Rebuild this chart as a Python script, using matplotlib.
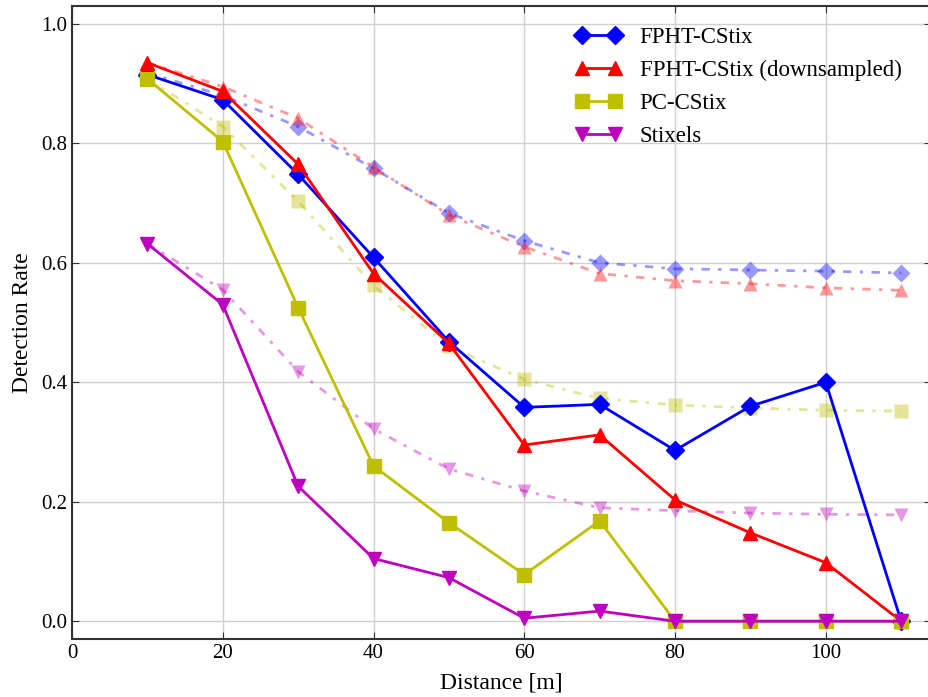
import numpy as np
import matplotlib
matplotlib.use('Agg')
import matplotlib.pyplot as plt

plt.rcParams['font.family'] = ['Liberation Serif', 'DejaVu Serif']

distance = [10, 20, 30, 40, 50, 60, 70, 80, 90, 100, 110]

fpht = [0.915, 0.873, 0.748, 0.609, 0.468, 0.358, 0.363, 0.286, 0.360, 0.400, 0.0]
fpht_ds = [0.935, 0.887, 0.765, 0.582, 0.465, 0.295, 0.312, 0.203, 0.148, 0.098, 0.0]
pc = [0.908, 0.803, 0.525, 0.260, 0.165, 0.078, 0.168, 0.0, 0.0, 0.0, 0.0]
stixels = [0.632, 0.530, 0.226, 0.105, 0.073, 0.005, 0.017, 0.0, 0.0, 0.0, 0.0]

# faded dash-dot curves
fpht_b = [0.918, 0.880, 0.828, 0.758, 0.683, 0.637, 0.600, 0.590, 0.588, 0.586, 0.583]
fpht_ds_b = [0.935, 0.895, 0.842, 0.760, 0.680, 0.627, 0.582, 0.570, 0.565, 0.558, 0.554]
pc_b = [0.908, 0.828, 0.703, 0.562, 0.460, 0.405, 0.373, 0.362, 0.357, 0.353, 0.352]
stixels_b = [0.632, 0.555, 0.418, 0.322, 0.255, 0.218, 0.190, 0.185, 0.181, 0.179, 0.178]

labels = ['FPHT-CStix', 'FPHT-CStix (downsampled)', 'PC-CStix', 'Stixels']
colors = ['#0000ff', '#ff0000', '#bfbf00', '#bf00bf']
markers = ['D', '^', 's', 'v']
sizes = [9, 10, 10, 10]
solid = [fpht, fpht_ds, pc, stixels]
faded = [fpht_b, fpht_ds_b, pc_b, stixels_b]

fig = plt.figure(figsize=(9.29, 6.97), dpi=100)
ax = fig.add_axes([0.0775, 0.083, 0.925, 0.9085])

for y, c, m, s in zip(faded, colors, markers, sizes):
    ax.plot(distance, y, color=c, alpha=0.4, lw=2, dashes=(3, 3, 1.2, 3),
            marker=m, ms=s, mec='none', zorder=2)
for y, c, m, s, lab in zip(solid, colors, markers, sizes, labels):
    ax.plot(distance, y, '-', color=c, lw=2, marker=m, ms=s, mec=c,
            label=lab, zorder=3)

ax.set_xlim(0, 114)
ax.set_ylim(-0.03, 1.03)
ax.set_xticks([0, 20, 40, 60, 80, 100])
ax.set_yticks([0.0, 0.2, 0.4, 0.6, 0.8, 1.0])
ax.grid(True, color='#d0d0d0', lw=1)
ax.set_axisbelow(True)
ax.tick_params(direction='in', top=True, right=True, labelsize=15, length=5, color='#333333')
for sp in ax.spines.values():
    sp.set_color('#333333')
    sp.set_linewidth(1.5)

ax.set_xlabel('Distance [m]', fontsize=17, labelpad=7)
ax.set_ylabel('Detection Rate', fontsize=17, labelpad=6)

ax.legend(loc='upper left', bbox_to_anchor=(0.562, 0.999), frameon=False,
          numpoints=2, fontsize=16.5, handlelength=2.0, labelspacing=0.52,
          handletextpad=0.8)

fig.savefig('out.png', dpi=100)
